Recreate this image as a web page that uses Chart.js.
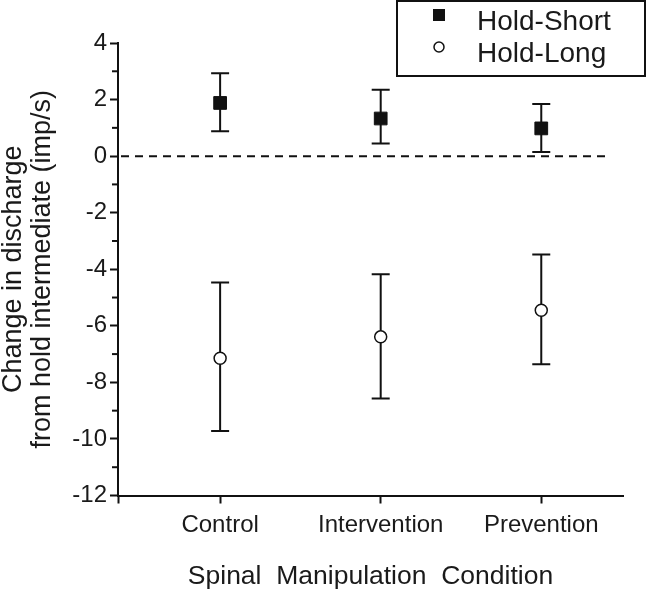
<!DOCTYPE html>
<html>
<head>
<meta charset="utf-8">
<script src="https://cdn.jsdelivr.net/npm/chart.js@4.4.1/dist/chart.umd.min.js"></script>
<style>
    html, body { margin: 0; padding: 0; background: #fff; }
    #chart { display: block; }
</style>
</head>
<body>
<canvas id="chart" width="647" height="593"></canvas>
<script>
// Valores (média e limites das barras de erro)
const categories = ['Control', 'Intervention', 'Prevention'];

const shortMean  = [1.88, 1.33, 0.98];
const shortUpper = [2.93, 2.35, 1.84];
const shortLower = [0.88, 0.45, 0.15];

const longMean  = [-7.15, -6.39, -5.45];
const longUpper = [-4.47, -4.18, -3.48];
const longLower = [-9.72, -8.57, -7.36];

const yTickValues = [-12, -10, -8, -6, -4, -2, 0, 2, 4];
const seriesLabels = ['Hold-Short', 'Hold-Long'];
const refValue = 0;

const FONT = "'Liberation Sans', Arial, sans-serif";
const INK = '#111';
const TEXT = '#1a1a1a';

// Monta pontos {x, y} a partir dos arrays
function toPoints(values) {
    return values.map((v, i) => ({ x: i, y: v }));
}

// Barras de erro desenhadas atrás dos marcadores
const errorBarsPlugin = {
    id: 'errorBars',
    beforeDatasetsDraw(chart) {
        const ctx = chart.ctx;
        const xs = chart.scales.x;
        const ys = chart.scales.y;
        const sets = [[shortUpper, shortLower], [longUpper, longLower]];
        const cap = 9;

        ctx.save();
        ctx.strokeStyle = INK;
        ctx.lineWidth = 2;

        // linha tracejada de referência em zero
        const y0 = ys.getPixelForValue(refValue);
        ctx.setLineDash([8, 6]);
        ctx.beginPath();
        ctx.moveTo(chart.chartArea.left + 3, y0);
        ctx.lineTo(chart.chartArea.right - 16, y0);
        ctx.stroke();
        ctx.setLineDash([]);

        sets.forEach(([upper, lower]) => {
            upper.forEach((u, i) => {
                const px = xs.getPixelForValue(i);
                const top = ys.getPixelForValue(u);
                const bot = ys.getPixelForValue(lower[i]);
                ctx.beginPath();
                ctx.moveTo(px, top);
                ctx.lineTo(px, bot);
                ctx.moveTo(px - cap, top);
                ctx.lineTo(px + cap, top);
                ctx.moveTo(px - cap, bot);
                ctx.lineTo(px + cap, bot);
                ctx.stroke();
            });
        });

        // ticks menores do eixo Y (valores ímpares)
        const left = chart.chartArea.left;
        for (let v = ys.min + 1; v < ys.max; v += 2) {
            const py = ys.getPixelForValue(v);
            ctx.beginPath();
            ctx.moveTo(left - 6, py);
            ctx.lineTo(left, py);
            ctx.stroke();
        }
        ctx.restore();
    }
};

// Legenda em caixa no canto superior direito (sobreposta ao gráfico)
const boxLegendPlugin = {
    id: 'boxLegend',
    afterDraw(chart) {
        const ctx = chart.ctx;
        const boxLeft = chart.width - 250;
        const boxTop = 1;
        const boxW = 248;
        const boxH = 75;

        ctx.save();
        ctx.fillStyle = '#fff';
        ctx.fillRect(boxLeft, boxTop, boxW, boxH);
        ctx.strokeStyle = INK;
        ctx.lineWidth = 2;
        ctx.strokeRect(boxLeft, boxTop, boxW, boxH);

        ctx.font = '28px ' + FONT;
        ctx.textBaseline = 'alphabetic';

        // Hold-Short: quadrado preto
        ctx.fillStyle = INK;
        ctx.fillRect(boxLeft + 36, 9, 12, 12);
        ctx.fillStyle = TEXT;
        ctx.fillText(seriesLabels[0], boxLeft + 80, 30);

        // Hold-Long: círculo vazio
        ctx.beginPath();
        ctx.arc(boxLeft + 42, 47, 5, 0, Math.PI * 2);
        ctx.fillStyle = '#fff';
        ctx.fill();
        ctx.lineWidth = 1.5;
        ctx.strokeStyle = INK;
        ctx.stroke();
        ctx.fillStyle = TEXT;
        ctx.fillText(seriesLabels[1], boxLeft + 80, 62);
        ctx.restore();
    }
};

const xMin = -0.636;
const xMax = 2.509;

const config = {
    type: 'scatter',
    data: {
        datasets: [
            {
                label: seriesLabels[0],
                data: toPoints(shortMean),
                pointStyle: 'rect',
                pointRadius: 9,
                backgroundColor: INK,
                borderColor: INK,
                borderWidth: 1
            },
            {
                label: seriesLabels[1],
                data: toPoints(longMean),
                pointStyle: 'circle',
                pointRadius: 6,
                backgroundColor: '#fff',
                borderColor: INK,
                borderWidth: 1.5
            }
        ]
    },
    options: {
        responsive: false,
        animation: false,
        events: [],
        layout: {
            padding: { top: 43, right: 24, left: 0, bottom: 0 }
        },
        plugins: {
            legend: { display: false },
            tooltip: { enabled: false }
        },
        scales: {
            x: {
                type: 'linear',
                min: xMin,
                max: xMax,
                afterBuildTicks: (scale) => {
                    scale.ticks = [xMin].concat(categories.map((c, i) => i)).map(v => ({ value: v }));
                },
                afterFit: (scale) => { scale.height = 97.5; },
                grid: {
                    drawOnChartArea: false,
                    drawTicks: true,
                    tickLength: 8,
                    tickWidth: 2,
                    tickColor: INK
                },
                border: { display: true, color: INK, width: 2 },
                ticks: {
                    autoSkip: false,
                    maxRotation: 0,
                    padding: 7,
                    color: TEXT,
                    font: { family: FONT, size: 24 },
                    callback: (value) => categories[value] !== undefined ? categories[value] : ''
                },
                title: {
                    display: true,
                    text: 'Spinal  Manipulation  Condition',
                    color: TEXT,
                    font: { family: FONT, size: 26.5, lineHeight: 1.2 },
                    padding: { top: 0, bottom: 0 }
                }
            },
            y: {
                min: yTickValues[0],
                max: yTickValues[yTickValues.length - 1],
                afterBuildTicks: (scale) => {
                    scale.ticks = yTickValues.map(v => ({ value: v }));
                },
                afterFit: (scale) => { scale.width = 118; },
                grid: {
                    drawOnChartArea: false,
                    drawTicks: true,
                    tickLength: 8,
                    tickWidth: 2,
                    tickColor: INK
                },
                border: { display: true, color: INK, width: 2 },
                ticks: {
                    padding: 3,
                    color: TEXT,
                    font: { family: FONT, size: 24 }
                },
                title: {
                    display: true,
                    text: ['Change in discharge', 'from hold intermediate (imp/s)'],
                    color: TEXT,
                    font: { family: FONT, size: 27, lineHeight: 1.04 },
                    padding: { top: 0, bottom: 0 }
                }
            }
        }
    },
    plugins: [errorBarsPlugin, boxLegendPlugin]
};

new Chart(document.getElementById('chart'), config);
</script>
</body>
</html>
